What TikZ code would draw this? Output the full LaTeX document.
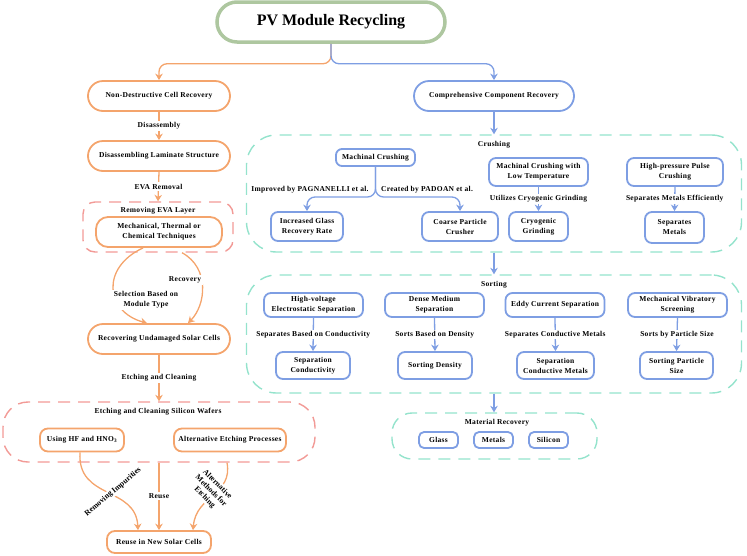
\documentclass[tikz,border=0pt]{standalone}
\usepackage{fontspec}
\setmainfont{Liberation Serif}
\newfontfamily\lblfont[LetterSpace=4]{Liberation Serif}
\usetikzlibrary{arrows.meta}
\definecolor{org}{HTML}{F4A46C}
\definecolor{blu}{HTML}{7E9EE3}
\definecolor{tealc}{HTML}{94E3CC}
\definecolor{pnk}{HTML}{F29A96}
\definecolor{grn}{HTML}{AEC7A0}
\tikzset{
  lbl/.style={font=\lblfont\bfseries\fontsize{7.5}{9}\selectfont, align=center, inner sep=0pt},
  elbl/.style={lbl, fill=white, inner sep=1.5pt},
  rlbl/.style={font=\bfseries\fontsize{7.8}{9}\selectfont, align=center, fill=white, inner sep=1pt},
  ttl/.style={font=\bfseries\fontsize{16}{19}\selectfont, draw=grn, line width=3.5pt, rounded corners=20pt, minimum width=228pt, minimum height=40pt, fill=white},
  obox/.style={lbl, draw=org, line width=1.8pt, fill=white, rounded corners=15pt, minimum width=142pt, minimum height=30pt},
  bbox/.style={lbl, draw=blu, line width=1.8pt, fill=white, rounded corners=7pt},
  bpill/.style={lbl, draw=blu, line width=1.8pt, fill=white, rounded corners=15pt, minimum width=160pt, minimum height=30pt},
  tgroup/.style={draw=tealc, line width=1.4pt, dash pattern=on 12pt off 8pt},
  pgroup/.style={draw=pnk, line width=1.4pt, dash pattern=on 12pt off 8pt},
  oarrow/.style={draw=org, line width=1.3pt, -{Stealth[length=6.5pt,width=7.5pt]}},
  barrow/.style={draw=blu, line width=1.3pt, -{Stealth[length=6.5pt,width=7.5pt]}},
}
\begin{document}
\begin{tikzpicture}[x=1pt,y=-1pt]
\useasboundingbox (0,0) rectangle (747,555);
% groups
\node[pgroup, minimum width=150pt, minimum height=50pt, rounded corners=12pt] (eva) at (158,227) {};
\node[pgroup, minimum width=312pt, minimum height=60pt, rounded corners=25pt] (ecg) at (159,432) {};
\node[tgroup, minimum width=495pt, minimum height=117pt, rounded corners=30pt] (crush) at (494,193.5) {};
\node[tgroup, minimum width=495pt, minimum height=118pt, rounded corners=30pt] (sort) at (494,334) {};
\node[tgroup, minimum width=205pt, minimum height=46pt, rounded corners=20pt] (mat) at (494.5,436) {};
% title
\node[ttl] (t) at (331,22) {PV Module Recycling};
% left column
\node[obox] (ndcr) at (159,96) {Non-Destructive Cell Recovery};
\node[obox] (dls) at (159,156) {Disassembling Laminate Structure};
\node[lbl] (evat) at (158,211) {Removing EVA Layer};
\node[obox, minimum width=126pt, minimum height=30pt, rounded corners=12pt] (mech) at (159,232) {Mechanical, Thermal or\\[1pt]Chemical Techniques};
\node[obox] (rus) at (159,339) {Recovering Undamaged Solar Cells};
\node[lbl] (ecgt) at (158,412) {Etching and Cleaning Silicon Wafers};
\node[obox, minimum width=84pt, minimum height=23pt, rounded corners=8pt] (hf) at (82,440) {Using HF and HNO\textsubscript{3}};
\node[obox, minimum width=112pt, minimum height=23pt, rounded corners=8pt] (alt) at (230,440) {Alternative Etching Processes};
\node[obox, minimum width=104pt, minimum height=22pt, rounded corners=8pt] (reuse) at (159,542) {Reuse in New Solar Cells};
% right column
\node[bpill] (ccr) at (494,96) {Comprehensive Component Recovery};
\node[lbl] (crusht) at (494,145) {Crushing};
\node[bbox, minimum width=79pt, minimum height=17pt, rounded corners=6pt] (mc) at (375.5,157.5) {Machinal Crushing};
\node[bbox, minimum width=72pt, minimum height=29pt] (igr) at (307,226.5) {Increased Glass\\[1pt]Recovery Rate};
\node[bbox, minimum width=76pt, minimum height=29pt] (cpc) at (460,226.5) {Coarse Particle\\[1pt]Crusher};
\node[bbox, minimum width=99pt, minimum height=28pt] (mclt) at (538.5,172) {Machinal Crushing with\\[1pt]Low Temperature};
\node[bbox, minimum width=59pt, minimum height=29pt] (cg) at (538.5,226.5) {Cryogenic\\[1pt]Grinding};
\node[bbox, minimum width=96pt, minimum height=28pt] (hppc) at (675,172) {High-pressure Pulse\\[1pt]Crushing};
\node[bbox, minimum width=59pt, minimum height=31pt] (sm) at (674.5,227.5) {Separates\\[1pt]Metals};
\node[lbl] (pag) at (310,190) {Improved by PAGNANELLI et al.};
\node[lbl] (pad) at (427,190) {Created by PADOAN et al.};
\coordinate (jl) at (307,197);
\coordinate (jr) at (460,197);

\node[lbl] (sortt) at (494,285) {Sorting};
\node[bbox, minimum width=99pt, minimum height=24pt] (hves) at (313.5,305) {High-voltage\\[1pt]Electrostatic Separation};
\node[bbox, minimum width=99pt, minimum height=24pt] (dms) at (434.5,305) {Dense Medium\\[1pt]Separation};
\node[bbox, minimum width=99pt, minimum height=24pt] (ecs) at (555,305) {Eddy Current Separation};
\node[bbox, minimum width=99pt, minimum height=24pt] (mvs) at (677.5,305) {Mechanical Vibratory\\[1pt]Screening};
\node[bbox, minimum width=74pt, minimum height=27pt] (sc) at (313,365.5) {Separation\\[1pt]Conductivity};
\node[bbox, minimum width=74pt, minimum height=27pt] (sd) at (435,365.5) {Sorting Density};
\node[bbox, minimum width=77pt, minimum height=27pt] (scm) at (555.5,365.5) {Separation\\[1pt]Conductive Metals};
\node[bbox, minimum width=73pt, minimum height=27pt] (sps) at (676.5,365.5) {Sorting Particle\\[1pt]Size};

\node[lbl] (matt) at (497,423) {Material Recovery};
\node[bbox, minimum width=39pt, minimum height=16pt, rounded corners=5pt] (glass) at (438.5,440) {Glass};
\node[bbox, minimum width=39pt, minimum height=16pt, rounded corners=5pt] (metals) at (493.5,440) {Metals};
\node[bbox, minimum width=39pt, minimum height=16pt, rounded corners=5pt] (silicon) at (548.5,440) {Silicon};

% connectors from title
\draw[oarrow, rounded corners=8pt] (t.south) -- ++(0,20) -| (ndcr.north);
\draw[barrow, rounded corners=8pt] (t.south) -- ++(0,20) -| (ccr.north);
% left connectors
\draw[oarrow] (ndcr.south) -- node[elbl] {Disassembly} (dls.north);
\draw[oarrow] (dls.south) -- node[elbl] {EVA Removal} (eva.north);
\draw[oarrow] ([xshift=-16pt]mech.south) .. controls (100,268) and (106,312) .. ([xshift=-12pt]rus.north);
\draw[oarrow] ([xshift=24pt]eva.south) .. controls (210,268) and (206,305) .. ([xshift=29pt]rus.north);
\node[elbl] (sel) at (146,300) {Selection Based on\\[1pt]Module Type};
\node[elbl] (rec) at (185,280) {Recovery};
\draw[oarrow] (rus.south) -- node[elbl] {Etching and Cleaning} (ecg.north);
\draw[oarrow] ([xshift=-2pt]hf.south) .. controls (77,500) and (136,486) .. ([xshift=-21pt]reuse.north);
\draw[oarrow] (ecg.south) -- node[elbl] {Reuse} (reuse.north);
\draw[oarrow] ([xshift=68pt]ecg.south) .. controls (233,495) and (196,495) .. ([xshift=34pt]reuse.north);
\node[rlbl, rotate=40] (rimp) at (113,492) {Removing Impurities};
\node[rlbl, rotate=-45] (amfe) at (211,491) {Alternative\\Methods for\\Etching};
% right connectors
\draw[barrow] (ccr.south) -- (ccr.south |- crush.north);
\draw[barrow, rounded corners=8pt] (mc.south) |- (jl) -- (igr.north);
\draw[barrow, rounded corners=8pt] (mc.south) |- (jr) -- (cpc.north);
\draw[barrow] (mclt.south) -- node[elbl] {Utilizes Cryogenic Grinding} (cg.north);
\draw[barrow] (hppc.south) -- node[elbl] {Separates Metals Efficiently} (sm.north);
\draw[barrow] (crush.south) -- (sort.north);
\draw[barrow] (hves.south) -- node[elbl] {Separates Based on Conductivity} (sc.north);
\draw[barrow] (dms.south) -- node[elbl] {Sorts Based on Density} (sd.north);
\draw[barrow] (ecs.south) -- node[elbl] {Separates Conductive Metals} (scm.north);
\draw[barrow] (mvs.south) -- node[elbl] {Sorts by Particle Size} (sps.north);
\draw[barrow] (sort.south) -- (sort.south |- mat.north);
\end{tikzpicture}
\end{document}
